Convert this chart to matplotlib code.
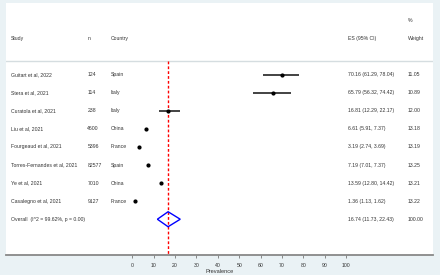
import numpy as np
import matplotlib
matplotlib.use('Agg')
import matplotlib.pyplot as plt
from matplotlib.patches import Polygon

# Data
studies = ['Guitart et al, 2022', 'Stera et al, 2021', 'Curatola et al, 2021', 'Liu et al, 2021',
           'Fourgeaud et al, 2021', 'Torres-Fernandes et al, 2021', 'Ye et al, 2021', 'Casalegno et al, 2021']
n = [124, 114, 238, 4600, 5396, 82577, 7010, 9127]
country = ['Spain', 'Italy', 'Italy', 'China', 'France', 'Spain', 'China', 'France']
es = [70.16, 65.79, 16.81, 6.61, 3.19, 7.19, 13.59, 1.36]
ci_low = [61.29, 56.32, 12.29, 5.91, 2.74, 7.01, 12.80, 1.13]
ci_high = [78.04, 74.42, 22.17, 7.37, 3.69, 7.37, 14.42, 1.62]
weight = [11.05, 10.89, 12.00, 13.18, 13.19, 13.25, 13.21, 13.22]
overall_label = 'Overall  (I^2 = 99.62%, p = 0.00)'
overall_es, overall_low, overall_high, overall_weight = 16.74, 11.73, 22.43, 100.00
xticks = [0, 10, 20, 30, 40, 50, 60, 70, 80, 90, 100]

# Params
fs = 3.7
txt_col = '#333333'
plt.rcParams['font.family'] = ['Liberation Sans', 'DejaVu Sans']


def main():
    fig = plt.figure(figsize=(4.4, 2.75), dpi=100, facecolor='#eaf2f5')
    ax = fig.add_axes([6 / 440, 1 - 255 / 275, 427 / 440, 252 / 275])
    ax.set_facecolor('white')
    ax.set_xlim(-59.1, 140.7)
    ax.set_ylim(9.98, -3.97)

    rows = np.arange(len(studies))

    # CI lines and point estimates
    ax.hlines(rows, ci_low, ci_high, color='#222222', lw=1.2, zorder=3)
    ax.plot(es, rows, 'o', color='black', ms=2.0, zorder=4)

    # overall diamond
    oy = len(studies)
    h = 0.415
    diamond = Polygon([[overall_low, oy], [overall_es, oy - h], [overall_high, oy], [overall_es, oy + h]],
                      closed=True, fill=False, edgecolor='#0000ff', lw=1.0, zorder=5)
    ax.add_patch(diamond)

    # reference line at overall estimate
    ax.vlines(overall_es, -0.76, 9.98, colors='red', linestyles=(0, (2, 1.5)), lw=1.0, zorder=2)

    # header separator
    ax.axhline(-0.76, color='#d5dde0', lw=1.0, zorder=1)

    # header texts
    hy = -2.0
    ax.text(-56.8, hy, 'Study', fontsize=fs, color=txt_col, va='center')
    ax.text(-21.0, hy, 'n', fontsize=fs, color=txt_col, va='center')
    ax.text(-10.1, hy, 'Country', fontsize=fs, color=txt_col, va='center')
    ax.text(100.9, hy, 'ES (95% CI)', fontsize=fs, color=txt_col, va='center')
    ax.text(128.8, hy, 'Weight', fontsize=fs, color=txt_col, va='center')
    ax.text(129.0, -2.99, '%', fontsize=fs, color=txt_col, va='center')

    for i in rows:
        ax.text(-56.8, i, studies[i], fontsize=fs, color=txt_col, va='center')
        ax.text(-21.0, i, str(n[i]), fontsize=fs, color=txt_col, va='center')
        ax.text(-10.1, i, country[i], fontsize=fs, color=txt_col, va='center')
        ax.text(100.9, i, '%.2f (%.2f, %.2f)' % (es[i], ci_low[i], ci_high[i]),
                fontsize=fs, color=txt_col, va='center')
        ax.text(128.8, i, '%.2f' % weight[i], fontsize=fs, color=txt_col, va='center')

    ax.text(-56.8, oy, overall_label, fontsize=fs, color=txt_col, va='center')
    ax.text(100.9, oy, '%.2f (%.2f, %.2f)' % (overall_es, overall_low, overall_high),
            fontsize=fs, color=txt_col, va='center')
    ax.text(128.8, oy, '%.2f' % overall_weight, fontsize=fs, color=txt_col, va='center')

    # axis styling
    for s in ['top', 'left', 'right']:
        ax.spines[s].set_visible(False)
    ax.spines['bottom'].set_color('#888888')
    ax.spines['bottom'].set_linewidth(1.3)
    ax.set_yticks([])
    ax.set_xticks(xticks)
    ax.set_xticklabels([str(t) for t in xticks])
    ax.tick_params(axis='x', length=2.5, width=0.6, color='#777777', labelsize=fs,
                   labelcolor=txt_col, pad=3)
    ax.text(41, -0.075, 'Prevalence', fontsize=fs + 0.4, color=txt_col, ha='center', va='bottom',
            transform=ax.get_xaxis_transform())

    fig.savefig('out.png', dpi=100, facecolor=fig.get_facecolor())


if __name__ == '__main__':
    main()
